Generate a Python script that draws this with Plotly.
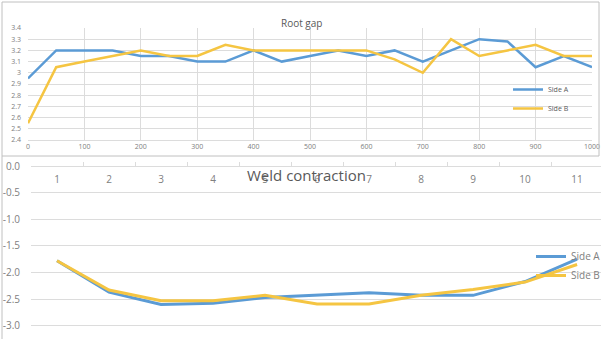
import plotly.graph_objects as go

W, H = 601, 339

# ---- Data: Root gap ----
gap_x = [0, 50, 100, 150, 200, 250, 300, 350, 400, 450, 500, 550, 600, 650, 700, 750, 800, 850, 900, 950, 1000]
gap_side_a = [2.95, 3.2, 3.2, 3.2, 3.15, 3.15, 3.1, 3.1, 3.2, 3.1, 3.15, 3.2, 3.15, 3.2, 3.1, 3.2, 3.3, 3.28, 3.05, 3.15, 3.05]
gap_side_b = [2.55, 3.05, 3.1, 3.15, 3.2, 3.15, 3.15, 3.25, 3.2, 3.2, 3.2, 3.2, 3.2, 3.12, 3.0, 3.3, 3.15, 3.2, 3.25, 3.15, 3.15]

# ---- Data: Weld contraction ----
weld_categories = ["1", "2", "3", "4", "5", "6", "7", "8", "9", "10", "11"]
weld_side_a = [-1.78, -2.37, -2.6, -2.58, -2.47, -2.42, -2.38, -2.43, -2.43, -2.17, -1.75]
weld_side_b = [-1.78, -2.33, -2.53, -2.53, -2.43, -2.59, -2.59, -2.43, -2.32, -2.18, -1.85]
weld_yticks = [0.0, -0.5, -1.0, -1.5, -2.0, -2.5, -3.0]
weld_yticklabels = ["0.0", "-0.5", "-1.0", "-1.5", "-2.0", "-2.5", "-3.0"]

BLUE = "#5b9bd5"
YELLOW = "#f5c542"
GRID = "#dcdcdc"
TXT = "#808080"
TITLE = "#595959"

def px_x(p):
    return p / W

def px_y(p):
    return (H - p) / H

fig = go.Figure()

fig.add_trace(go.Scatter(x=gap_x, y=gap_side_a, mode="lines", name="Side A",
                         line=dict(color=BLUE, width=2.5), xaxis="x", yaxis="y", legend="legend"))
fig.add_trace(go.Scatter(x=gap_x, y=gap_side_b, mode="lines", name="Side B",
                         line=dict(color=YELLOW, width=2.5), xaxis="x", yaxis="y", legend="legend"))

fig.add_trace(go.Scatter(x=weld_categories, y=weld_side_a, mode="lines", name="Side A",
                         line=dict(color=BLUE, width=3), xaxis="x2", yaxis="y2", legend="legend2"))
fig.add_trace(go.Scatter(x=weld_categories, y=weld_side_b, mode="lines", name="Side B",
                         line=dict(color=YELLOW, width=3), xaxis="x2", yaxis="y2", legend="legend2"))

fig.update_layout(
    width=W, height=H,
    margin=dict(l=0, r=0, t=0, b=0, autoexpand=False),
    paper_bgcolor="white", plot_bgcolor="white",
    font=dict(family="Open Sans, sans-serif", color=TXT),
    xaxis=dict(domain=[px_x(28), px_x(592)], range=[0, 1000], dtick=100, tick0=0,
               showgrid=True, gridcolor=GRID, gridwidth=1, zeroline=False,
               showline=True, linecolor=GRID, ticks="", tickfont=dict(size=7, color=TXT),
               anchor="y", automargin=False, fixedrange=True),
    yaxis=dict(domain=[px_y(140), px_y(28)], range=[2.4, 3.4], dtick=0.1, tick0=2.4,
               showgrid=True, gridcolor=GRID, gridwidth=1, zeroline=False,
               showline=False, ticks="", tickfont=dict(size=7, color=TXT),
               ticklabelstandoff=6, anchor="x", automargin=False),
    xaxis2=dict(domain=[px_x(31), 1.0], type="category", range=[-0.5, 10.46],
                side="bottom", anchor="free", position=px_y(166), tickson="boundaries",
                ticks="inside", ticklen=4, tickcolor=GRID, ticklabelstandoff=4,
                showgrid=False, zeroline=False, showline=True, linecolor=GRID,
                tickfont=dict(size=10, color=TXT), automargin=False),
    yaxis2=dict(domain=[0, px_y(166)], range=[-3.25, 0.001], tickvals=weld_yticks,
                ticktext=weld_yticklabels, showgrid=True, gridcolor=GRID,
                zeroline=False, showline=False, ticks="",
                tickfont=dict(size=10, color=TXT), ticklabelstandoff=10, anchor="x2",
                automargin=False),
    legend=dict(x=px_x(508), y=px_y(75), xanchor="left", yanchor="top",
                bgcolor="rgba(0,0,0,0)", font=dict(size=7, color="#595959"),
                itemwidth=30, tracegroupgap=0),
    legend2=dict(x=px_x(531), y=px_y(242), xanchor="left", yanchor="top",
                 bgcolor="rgba(0,0,0,0)", font=dict(size=10, color=TXT),
                 itemwidth=30, tracegroupgap=0),
    showlegend=True,
    annotations=[
        dict(text="Root gap", x=px_x(301), y=px_y(14), xref="paper", yref="paper",
             showarrow=False, font=dict(size=10, color=TITLE)),
        dict(text="Weld contraction", x=px_x(306), y=px_y(175), xref="paper", yref="paper",
             showarrow=False, font=dict(size=15, color=TITLE)),
    ],
    shapes=[
        dict(type="rect", xref="paper", yref="paper", x0=px_x(2), x1=px_x(599),
             y0=px_y(156), y1=px_y(2), line=dict(color="#c0c0c0", width=1)),
        dict(type="line", xref="paper", yref="paper", x0=px_x(2), x1=px_x(2),
             y0=0, y1=px_y(156), line=dict(color="#c0c0c0", width=1)),
    ],
)

fig.write_html("out.html", config={"displayModeBar": False},
               post_script="document.body.style.margin='0';document.body.style.overflow='hidden';")
